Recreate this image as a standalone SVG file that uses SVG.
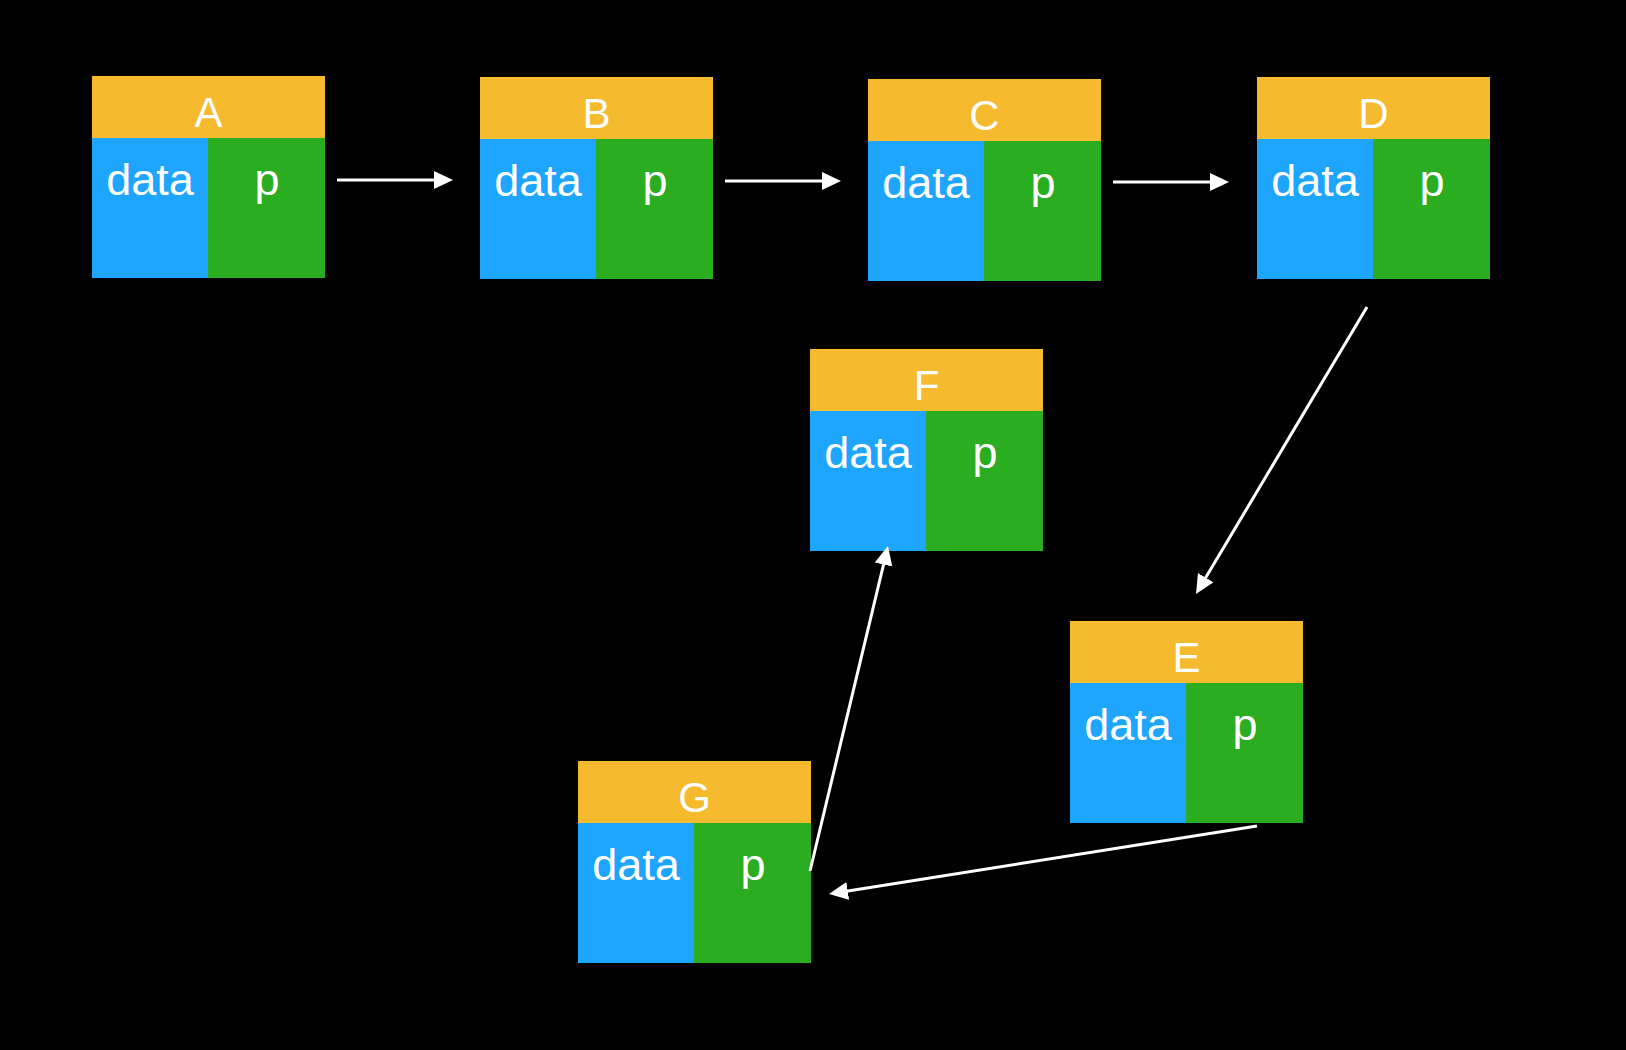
<svg xmlns="http://www.w3.org/2000/svg" width="1626" height="1050" viewBox="0 0 1626 1050">
<style>
.hd{fill:#F6BA2F}
.dt{fill:#1EA5FE}
.pp{fill:#2AAD20}
.t{font-family:"Liberation Sans",Arial,Helvetica,sans-serif;fill:#FFFFFF;text-anchor:middle}
.ht{font-size:42px}
.bt{font-size:45px}
.c{stroke:#FFFFFF;stroke-width:3;fill:none;marker-end:url(#ah)}
</style>
<defs>
<marker id="ah" markerUnits="userSpaceOnUse" markerWidth="20" markerHeight="20" viewBox="0 0 20 20" refX="11" refY="10" orient="auto">
<path d="M0,1 L19,10 L0,19 z" fill="#FFFFFF"/>
</marker>
<g id="node">
<rect class="hd" x="0" y="0" width="233" height="62"/>
<rect class="dt" x="0" y="62" width="116" height="140"/>
<rect class="pp" x="116" y="62" width="117" height="140"/>
<text class="t bt" x="58" y="119">data</text>
<text class="t bt" x="175" y="119">p</text>
</g>
</defs>
<rect x="0" y="0" width="1626" height="1050" fill="#000000"/>
<g id="A" transform="translate(92,76)"><use href="#node"/><text class="t ht" x="116.5" y="51">A</text></g>
<g id="B" transform="translate(480,77)"><use href="#node"/><text class="t ht" x="116.5" y="51">B</text></g>
<g id="C" transform="translate(868,79)"><use href="#node"/><text class="t ht" x="116.5" y="51">C</text></g>
<g id="D" transform="translate(1257,77)"><use href="#node"/><text class="t ht" x="116.5" y="51">D</text></g>
<g id="F" transform="translate(810,349)"><use href="#node"/><text class="t ht" x="116.5" y="51">F</text></g>
<g id="E" transform="translate(1070,621)"><use href="#node"/><text class="t ht" x="116.5" y="51">E</text></g>
<g id="G" transform="translate(578,761)"><use href="#node"/><text class="t ht" x="116.5" y="51">G</text></g>
<g id="connectors">
<line class="c" x1="337" y1="180" x2="445" y2="180"/>
<line class="c" x1="725" y1="181" x2="833" y2="181"/>
<line class="c" x1="1113" y1="182" x2="1221" y2="182"/>
<line class="c" x1="1367" y1="307" x2="1200.1" y2="587.1"/>
<line class="c" x1="1257" y1="826" x2="836.9" y2="892.7"/>
<line class="c" x1="810" y1="871" x2="886.1" y2="553.8"/>
</g>
</svg>
